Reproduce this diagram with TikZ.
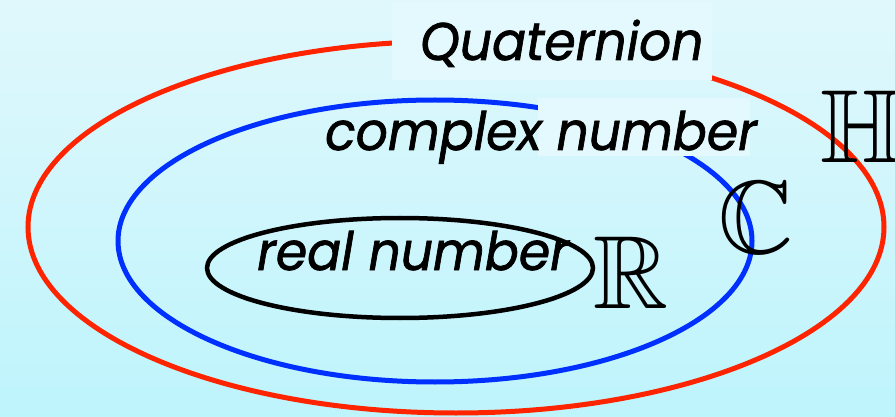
\documentclass[tikz,border=0pt]{standalone}
\usepackage{amssymb}
\usepackage{fontspec}
\newfontfamily\labelfont[FakeBold=1.3,FakeStretch=0.95]{Poppins}
\definecolor{bgtop}{RGB}{224,248,252}
\definecolor{bgbot}{RGB}{190,244,252}
\definecolor{boxfill}{RGB}{228,249,253}
\definecolor{qred}{RGB}{255,36,0}
\definecolor{cblue}{RGB}{0,48,255}
\tikzset{
  ring/.style={line width=5pt},
  lbl/.style={font=\labelfont\itshape\fontsize{53}{53}\selectfont, inner sep=0pt, anchor=base west},
  bbsym/.style={font=\fontsize{104}{104}\selectfont, inner sep=0pt, anchor=base west},
  cover/.style={fill=boxfill, draw=none}
}
\begin{document}
\begin{tikzpicture}[x=1pt,y=-1pt]
\useasboundingbox (0,0) rectangle (895,417);
\shade[top color=bgtop, bottom color=bgbot] (0,0) rectangle (895,417);
\draw[ring, qred] (456,227) ellipse [x radius=428, y radius=186];
\draw[ring, cblue] (435,241) ellipse [x radius=317, y radius=141];
\draw[line width=4.5pt, black] (400,268) ellipse [x radius=193, y radius=50];
\fill[cover] (392,2) rectangle (712,80);
\fill[cover] (538,98) rectangle (750,156);
\node[lbl] (quat) at (420,60) {Quaternion};
\node[lbl] (cplx) at (325,150) {complex number};
\node[lbl] (real) at (257,270) {real number};
\node[bbsym] (H) at (820,163) {$\mathbb{H}$};
\node[bbsym] (C) at (718,253) {$\mathbb{C}$};
\node[bbsym] (R) at (593,308) {$\mathbb{R}$};
\end{tikzpicture}
\end{document}
